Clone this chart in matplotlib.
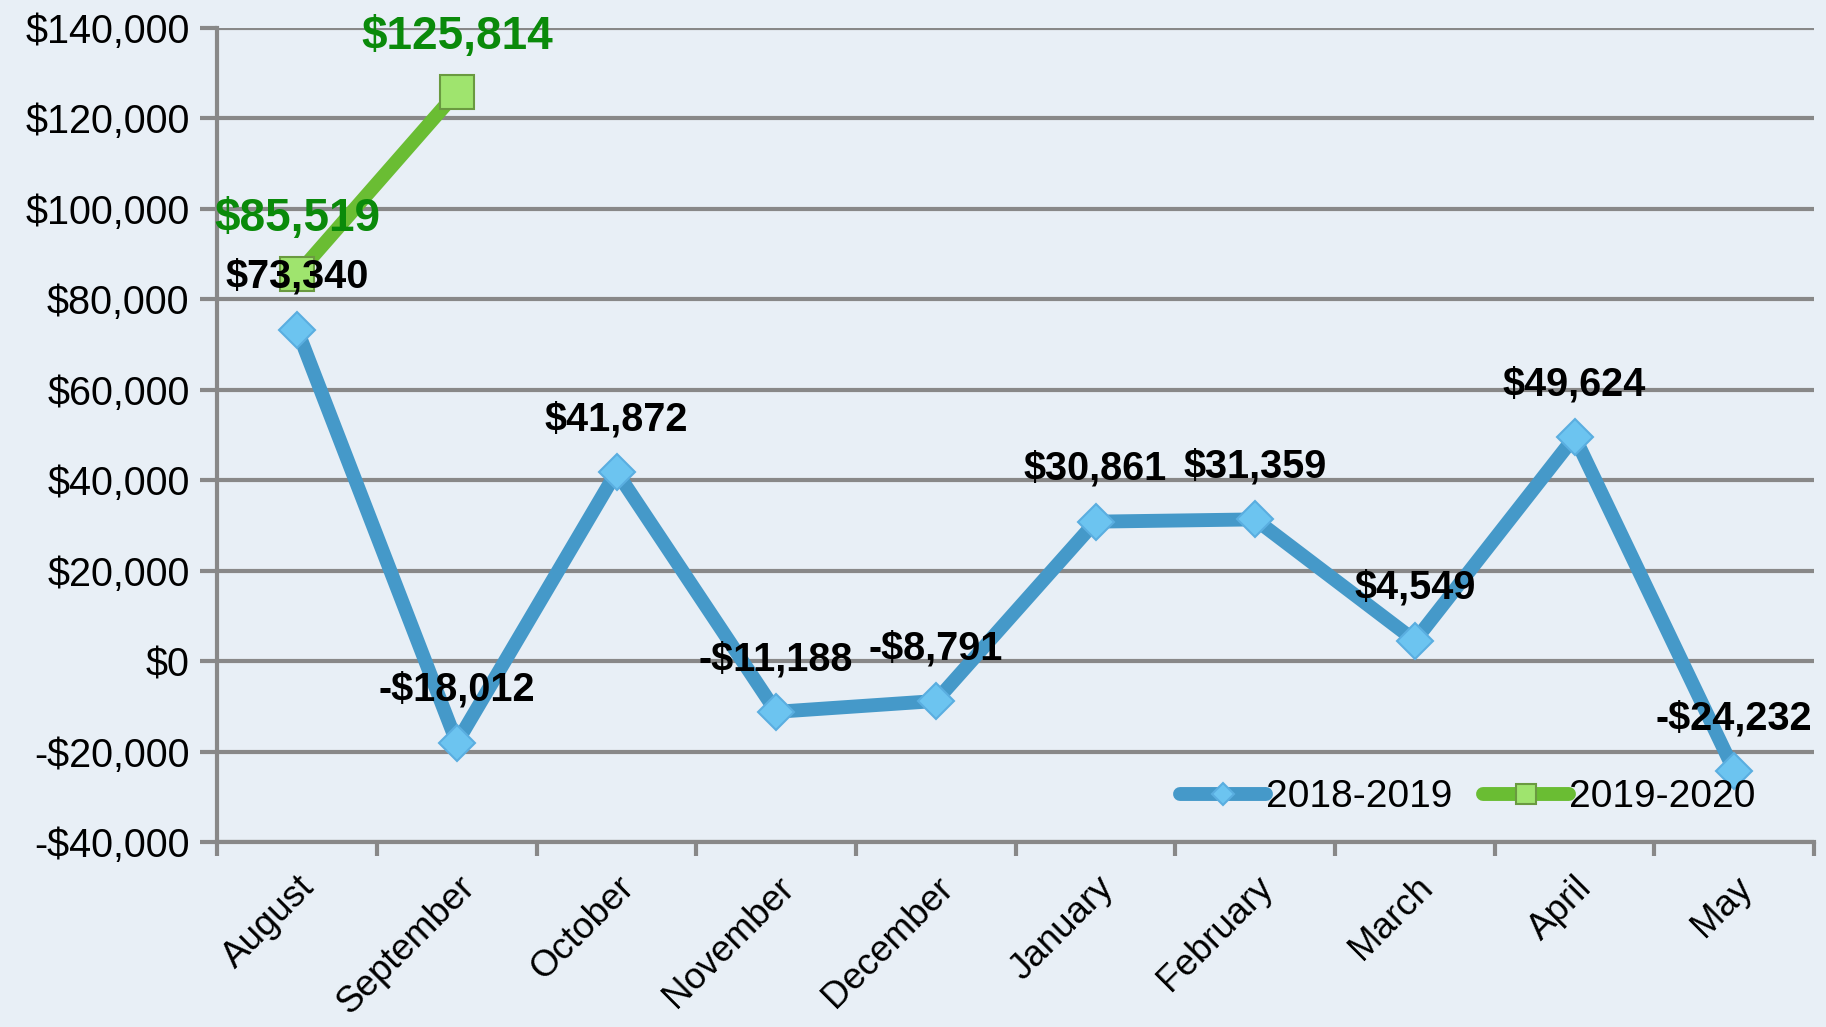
import matplotlib.pyplot as plt
from matplotlib.ticker import FuncFormatter

# データ
months = ['August', 'September', 'October', 'November', 'December',
          'January', 'February', 'March', 'April', 'May']
values_1819 = [73340, -18012, 41872, -11188, -8791, 30861, 31359, 4549, 49624, -24232]
values_1920 = [85519, 125814]
series_names = ['2018-2019', '2019-2020']

plt.rcParams['font.family'] = ['Liberation Sans', 'DejaVu Sans']

bg = '#e8eff6'
fig = plt.figure(figsize=(18.26, 10.27), dpi=100, facecolor=bg)
ax = fig.add_axes([0.119, 0.18, 0.8745, 0.7927], facecolor=bg)

x1 = list(range(len(values_1819)))
x2 = list(range(len(values_1920)))

ax.plot(x1, values_1819, color='#4599c9', lw=10, solid_capstyle='round',
        marker='D', ms=18, mfc='#6cc4f0', mec='#5aaee0', mew=1.5,
        label=series_names[0], zorder=3)
ax.plot(x2, values_1920, color='#6abd33', lw=10, solid_capstyle='round',
        marker='s', ms=24, mfc='#9fe46e', mec='#6a9a40', mew=1.5,
        label=series_names[1], zorder=4)


def money(v):
    return f'-${abs(v):,.0f}' if v < 0 else f'${v:,.0f}'


for x, v in zip(x1, values_1819):
    ax.annotate(money(v), (x, v), xytext=(0, 38), textcoords='offset points',
                ha='center', va='center', fontsize=28.5, fontweight='bold',
                color='black', zorder=6)
for x, v in zip(x2, values_1920):
    ax.annotate(money(v), (x, v), xytext=(0, 40), textcoords='offset points',
                ha='center', va='center', fontsize=33, fontweight='bold',
                color='#0a8a0a', zorder=6)

ax.set_xlim(-0.5, 9.5)
ax.set_ylim(-40000, 140000)
ax.set_yticks(range(-40000, 140001, 20000))
ax.yaxis.set_major_formatter(FuncFormatter(lambda v, p: money(v)))
ax.set_xticks(x1)
ax.set_xticklabels(months, rotation=45, ha='right', rotation_mode='anchor')
ax.set_xticks([i - 0.5 for i in range(len(months) + 1)], minor=True)
ax.tick_params(axis='x', which='major', length=0, labelsize=26.5, pad=20)
ax.tick_params(axis='x', which='minor', length=10, width=3, color='#888888')
ax.tick_params(axis='y', length=12, width=3, color='#888888', labelsize=28.5, pad=8)

ax.grid(axis='y', color='#888888', lw=3)
ax.set_axisbelow(True)
for s in ['top', 'right']:
    ax.spines[s].set_visible(False)
for s in ['left', 'bottom']:
    ax.spines[s].set_color('#888888')
    ax.spines[s].set_linewidth(3)

ax.legend(loc='lower right', bbox_to_anchor=(0.985, -0.01), ncol=2, frameon=False,
          fontsize=28, handlelength=2.2, handletextpad=0.0, columnspacing=0.8,
          markerscale=0.6)

fig.savefig('out.png', dpi=100, facecolor=bg)
